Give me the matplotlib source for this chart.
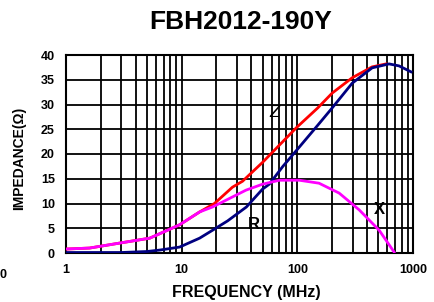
import numpy as np
import matplotlib
matplotlib.use("Agg")
import matplotlib.pyplot as plt
from matplotlib.ticker import LogLocator, NullFormatter

plt.rcParams['font.family'] = ['Liberation Sans', 'DejaVu Sans']

# 데이터
freq_z = [1, 1.6, 2.9, 5.3, 9.6, 14.3, 19.2, 27.5, 33.6, 50, 70, 98, 150, 200, 298, 443, 585]
imp_z = [0.8, 1.0, 2.0, 3.0, 5.7, 8.3, 10.0, 13.3, 14.5, 18.3, 21.8, 25.3, 29.3, 32.3, 35.4, 37.6, 38.2]

freq_r = [1, 3, 5, 6.5, 9.6, 14.3, 18.5, 25, 36.3, 50, 57.2, 75, 104, 150, 200, 298, 443, 621, 757, 961]
imp_r = [0.1, 0.1, 0.3, 0.6, 1.2, 3.0, 4.6, 6.5, 9.3, 12.9, 13.9, 17.5, 21.4, 25.8, 29.3, 34.3, 37.4, 38.2, 37.8, 36.6]

freq_x = [1, 1.6, 2.9, 5.3, 9.6, 14.3, 18.5, 36, 50, 70, 104, 154, 230, 343, 510, 686]
imp_x = [0.8, 1.0, 2.0, 3.0, 5.7, 8.3, 9.3, 12.7, 13.9, 14.7, 14.7, 14.1, 12.1, 8.7, 4.6, 0.2]

x_ticks = [1, 10, 100, 1000]
y_ticks = [0, 5, 10, 15, 20, 25, 30, 35, 40]

fig = plt.figure(figsize=(4.35, 3.02), dpi=100)
ax = fig.add_axes([66/435, 1 - 253/302, (413-66)/435, (253-55)/302])

ax.plot(freq_z, imp_z, color='#ff0000', lw=2, zorder=3)
ax.plot(freq_r, imp_r, color='#000080', lw=2, zorder=3)
ax.plot(freq_x, imp_x, color='#ff00ff', lw=2, zorder=4)

ax.set_xscale('log')
ax.set_xlim(1, 1000)
ax.set_ylim(0, 40)
ax.set_xticks(x_ticks)
ax.set_xticklabels([str(t) for t in x_ticks])
ax.xaxis.set_minor_locator(LogLocator(base=10, subs=np.arange(2, 10)))
ax.xaxis.set_minor_formatter(NullFormatter())
ax.set_yticks(y_ticks)

ax.grid(True, which='both', axis='x', color='black', lw=1.3)
ax.grid(True, which='major', axis='y', color='black', lw=1.3)
ax.tick_params(which='both', length=0, labelsize=9, pad=8)
for lab in ax.get_xticklabels() + ax.get_yticklabels():
    lab.set_fontweight('bold')
for s in ax.spines.values():
    s.set_linewidth(1.5)

# 곡선 라벨
ax.text(63, 28.3, 'Z', fontsize=12, ha='center', va='center', style='italic')
ax.text(42.5, 5.7, 'R', fontsize=12, fontweight='bold', ha='center', va='center')
ax.text(510, 8.7, 'X', fontsize=12, fontweight='bold', ha='center', va='center')

fig.text(241/435, 1 - 22/302, 'FBH2012-190Y', fontsize=19, fontweight='bold', ha='center', va='center')
fig.text(246/435, 1 - 292/302, 'FREQUENCY (MHz)', fontsize=11.5, fontweight='bold', ha='center', va='center')
fig.text(19/435, 1 - 158/302, 'IMPEDANCE(Ω)', fontsize=10, fontweight='bold', ha='center', va='center', rotation=90)
fig.text(0, 1 - 275/302, '0', fontsize=9, fontweight='bold', ha='left', va='center')

fig.savefig('out.png', dpi=100)
